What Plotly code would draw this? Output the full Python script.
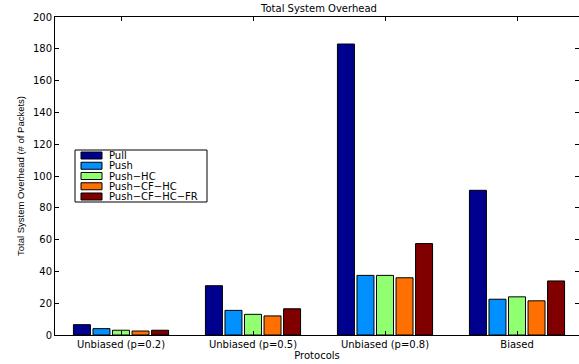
import plotly.graph_objects as go

categories = ["Unbiased (p=0.2)", "Unbiased (p=0.5)", "Unbiased (p=0.8)", "Biased"]
series_names = ["Pull", "Push", "Push\u2212HC", "Push\u2212CF\u2212HC", "Push\u2212CF\u2212HC\u2212FR"]
pull = [6.5, 31, 183, 91]
push = [4, 15.5, 37.5, 22.5]
push_hc = [3, 13, 37.5, 24]
push_cf_hc = [2.5, 12, 36, 21.5]
push_cf_hc_fr = [3, 16.5, 57.5, 34]
colors = ["#00008F", "#0090FF", "#90FF70", "#FF7000", "#800000"]

values = [pull, push, push_hc, push_cf_hc, push_cf_hc_fr]
xpos = [1, 2, 3, 4]

W, H = 579, 364
L, R, T, B = 55, 0, 17, 29
plot_w = W - L - R
plot_h = H - T - B
spacing = 132.0

def px(xp):
    return (xp - L) / plot_w

def py(yp):
    return (H - B - yp) / plot_h

fig = go.Figure()
for name, vals, col in zip(series_names, values, colors):
    fig.add_trace(go.Bar(
        x=xpos, y=vals, name=name, showlegend=False,
        marker=dict(color=col, line=dict(color="black", width=1)),
    ))
# invisible helper trace for right-side ticks
fig.add_trace(go.Scatter(x=[1], y=[0], yaxis="y2", mode="markers",
                         marker=dict(opacity=0), showlegend=False, hoverinfo="skip"))

font = "DejaVu Sans, Verdana, sans-serif"
font_narrow = "Liberation Sans, Arial, Helvetica, sans-serif"

# custom compact legend (Matlab style)
shapes = [dict(type="rect", xref="paper", yref="paper",
               x0=px(75), x1=px(207), y0=py(202), y1=py(150),
               line=dict(color="black", width=1), fillcolor="white", layer="above")]
annotations = []
row0, rowstep = 155.5, 10.25
for i, (name, col) in enumerate(zip(series_names, colors)):
    cy = row0 + i * rowstep
    shapes.append(dict(type="rect", xref="paper", yref="paper",
                       x0=px(81), x1=px(102), y0=py(cy + 3.5), y1=py(cy - 3.5),
                       line=dict(color="black", width=1), fillcolor=col, layer="above"))
    annotations.append(dict(text=name, xref="paper", yref="paper", x=px(107), y=py(cy),
                            xanchor="left", yanchor="middle", showarrow=False,
                            font=dict(size=10, family=font, color="black")))

fig.update_layout(
    width=W, height=H,
    margin=dict(l=L, r=R, t=T, b=B, pad=0),
    paper_bgcolor="white", plot_bgcolor="white",
    font=dict(family=font, size=10, color="black"),
    barmode="group", bargap=0.26, bargroupgap=0.13,
    showlegend=False,
    title=dict(text="Total System Overhead", x=(L + 2 * spacing) / W, xanchor="center",
               y=1 - 8 / H, yanchor="middle", yref="container",
               font=dict(size=10, family=font)),
    xaxis=dict(range=[0.5, 0.5 + plot_w / spacing], tickvals=xpos, ticktext=categories,
               showline=True, linecolor="black", linewidth=1, mirror="ticks",
               ticks="inside", ticklen=4, tickcolor="black", showgrid=False, zeroline=False,
               tickfont=dict(size=10),
               title=dict(text="Protocols", font=dict(size=10), standoff=2)),
    yaxis=dict(range=[0, 200], dtick=20, showline=True, linecolor="black", linewidth=1,
               ticks="inside", ticklen=4, tickcolor="black", showgrid=False, zeroline=False,
               tickfont=dict(size=10),
               title=dict(text="Total System Overhead (# of Packets)",
                          font=dict(size=9.5, family=font_narrow), standoff=6)),
    yaxis2=dict(range=[0, 200], dtick=20, overlaying="y", side="right", showline=False,
                ticks="inside", ticklen=4, tickcolor="black", showticklabels=False,
                showgrid=False, zeroline=False),
    shapes=shapes,
    annotations=annotations,
)

fig.write_html("out.html")
